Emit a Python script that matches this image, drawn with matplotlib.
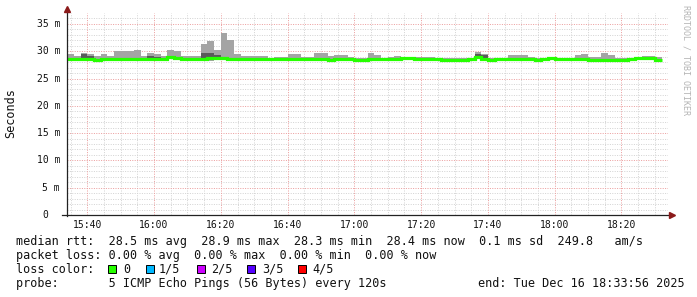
import numpy as np
import matplotlib
matplotlib.use("Agg")
import matplotlib.pyplot as plt
from matplotlib.patches import Rectangle

# ---------------- data (ms) ----------------
# 2-minute samples starting 15:34 (minutes after 15:00)
first_sample_min = 34
sample_step_min = 2

median_ms = [28.6, 28.6, 28.6, 28.6, 28.45, 28.6, 28.6, 28.6, 28.6, 28.6,
             28.6, 28.6, 28.65, 28.65, 28.65, 28.85, 28.7, 28.6, 28.6, 28.6,
             28.65, 28.75, 28.75, 28.7, 28.65, 28.6, 28.6, 28.6, 28.55, 28.55,
             28.5, 28.55, 28.55, 28.6, 28.6, 28.6, 28.6, 28.6, 28.6, 28.35,
             28.6, 28.6, 28.6, 28.4, 28.4, 28.6, 28.6, 28.6, 28.6, 28.6,
             28.7, 28.7, 28.65, 28.65, 28.65, 28.6, 28.4, 28.4, 28.4, 28.4,
             28.6, 28.85, 28.65, 28.35, 28.6, 28.6, 28.6, 28.6, 28.6, 28.6,
             28.4, 28.55, 28.7, 28.6, 28.6, 28.6, 28.6, 28.6, 28.45, 28.45,
             28.45, 28.45, 28.45, 28.45, 28.5, 28.7, 28.7, 28.7, 28.35]

ping_max_ms = [29.5, 29.2, 29.6, 29.5, 29.1, 29.5, 29.2, 30.0, 30.0, 30.0,
               30.2, 29.2, 29.7, 29.5, 29.2, 30.2, 30.0, 29.2, 29.2, 29.2,
               31.4, 31.9, 30.2, 33.3, 32.0, 29.5, 29.1, 29.1, 29.1, 29.1,
               28.8, 29.0, 29.0, 29.5, 29.5, 29.0, 29.0, 29.7, 29.7, 29.2,
               29.3, 29.3, 29.0, 28.8, 28.8, 29.7, 29.3, 28.8, 29.0, 29.1,
               28.8, 28.8, 29.0, 29.0, 29.0, 28.7, 28.7, 28.7, 28.7, 28.7,
               28.8, 29.9, 29.5, 28.7, 28.8, 28.8, 29.3, 29.3, 29.3, 29.0,
               28.7, 28.8, 29.0, 28.8, 28.8, 28.8, 29.3, 29.5, 29.0, 29.0,
               29.7, 29.3, 28.7, 28.7, 28.7, 29.0, 29.1, 29.1, 29.0]

ping_p4_ms = [28.7, 28.7, 29.5, 29.2, 28.55, 28.7, 28.7, 28.7, 28.7, 28.7,
              28.7, 28.7, 29.2, 29.0, 28.75, 28.95, 28.8, 28.7, 28.7, 28.7,
              29.7, 29.7, 29.25, 28.8, 28.75, 28.7, 28.7, 28.7, 28.65, 28.65,
              28.6, 28.65, 28.65, 28.7, 28.7, 28.7, 28.7, 28.7, 28.7, 28.45,
              28.7, 28.7, 28.7, 28.5, 28.5, 28.7, 28.7, 28.7, 28.7, 28.7,
              28.8, 28.8, 28.75, 28.75, 28.75, 28.7, 28.5, 28.5, 28.5, 28.5,
              28.7, 29.5, 29.3, 28.45, 28.7, 28.7, 28.7, 28.7, 28.7, 28.7,
              28.5, 28.65, 28.8, 28.7, 28.7, 28.7, 28.7, 28.7, 28.55, 28.55,
              28.55, 28.55, 28.55, 28.55, 28.6, 28.8, 28.8, 28.8, 28.45]

ping_p2_ms = [28.5, 28.5, 28.5, 28.5, 28.35, 28.5, 28.5, 28.5, 28.5, 28.5,
              28.5, 28.5, 28.55, 28.55, 28.55, 28.75, 28.6, 28.5, 28.5, 28.5,
              28.4, 28.3, 28.4, 28.6, 28.55, 28.5, 28.5, 28.5, 28.45, 28.45,
              28.4, 28.45, 28.45, 28.5, 28.5, 28.5, 28.5, 28.5, 28.5, 28.25,
              28.5, 28.5, 28.5, 28.3, 28.3, 28.5, 28.5, 28.5, 28.5, 28.5,
              28.6, 28.6, 28.55, 28.55, 28.55, 28.5, 28.3, 28.3, 28.3, 28.3,
              28.5, 28.75, 28.55, 28.25, 28.5, 28.5, 28.5, 28.5, 28.5, 28.5,
              28.3, 28.45, 28.6, 28.5, 28.5, 28.5, 28.5, 28.5, 28.35, 28.35,
              28.35, 28.35, 28.35, 28.35, 28.4, 28.6, 28.6, 28.6, 28.25]

ping_min_ms = [28.4, 28.4, 28.4, 28.4, 28.25, 28.4, 28.4, 28.4, 28.4, 28.4,
               28.4, 28.4, 28.45, 28.45, 28.45, 28.65, 28.5, 28.4, 28.4, 28.4,
               28.35, 28.25, 28.35, 28.5, 28.45, 28.4, 28.4, 28.4, 28.35, 28.35,
               28.3, 28.35, 28.35, 28.4, 28.4, 28.4, 28.4, 28.4, 28.4, 28.15,
               28.4, 28.4, 28.4, 28.2, 28.2, 28.4, 28.4, 28.4, 28.4, 28.4,
               28.5, 28.5, 28.45, 28.45, 28.45, 28.4, 28.2, 28.2, 28.2, 28.2,
               28.4, 28.65, 28.45, 28.15, 28.4, 28.4, 28.4, 28.4, 28.4, 28.4,
               28.2, 28.35, 28.5, 28.4, 28.4, 28.4, 28.4, 28.4, 28.25, 28.25,
               28.25, 28.25, 28.25, 28.25, 28.3, 28.5, 28.5, 28.5, 28.15]

x_tick_minutes = [40, 60, 80, 100, 120, 140, 160, 180, 200]
x_tick_labels = ["15:40", "16:00", "16:20", "16:40", "17:00", "17:20", "17:40", "18:00", "18:20"]
y_tick_values = [0, 5, 10, 15, 20, 25, 30, 35]
y_tick_labels = ["0", "5 m", "10 m", "15 m", "20 m", "25 m", "30 m", "35 m"]

loss_labels = ["0", "1/5", "2/5", "3/5", "4/5"]
loss_colors = ["#26ff00", "#00b8ff", "#cc00ff", "#5500ff", "#ff0000"]

legend_lines = [
    "median rtt:  28.5 ms avg  28.9 ms max  28.3 ms min  28.4 ms now  0.1 ms sd  249.8   am/s",
    "packet loss: 0.00 % avg  0.00 % max  0.00 % min  0.00 % now",
]
probe_text = "probe:       5 ICMP Echo Pings (56 Bytes) every 120s"
end_text = "end: Tue Dec 16 18:33:56 2025"

# ---------------- figure ----------------
W, H = 697, 297
fig = plt.figure(figsize=(W / 100, H / 100), dpi=100, facecolor="white")
X0, X1, YT, YB = 67, 668, 13, 215
ax = fig.add_axes([X0 / W, (H - YB) / H, (X1 - X0) / W, (YB - YT) / H])
ax.set_facecolor("white")
t_start = 33 + 56 / 60
t_end = t_start + 180
ax.set_xlim(t_start, t_end)
ax.set_ylim(0, 37)
for s in ax.spines.values():
    s.set_visible(False)
ax.set_xticks([])
ax.set_yticks([])

MONO = "DejaVu Sans Mono"
minor_c = "#d4d4d4"
major_c = "#eca0a0"
dot = (0, (1, 1.4))

# grid
for m in range(35, 214, 5):
    if m % 20 == 0:
        continue
    ax.axvline(m, color=minor_c, lw=0.72, ls=dot, zorder=1, snap=True)
for v in range(1, 37):
    if v % 5 == 0:
        continue
    ax.axhline(v, color=minor_c, lw=0.72, ls=dot, zorder=1, snap=True)
for v in range(5, 37, 5):
    ax.axhline(v, color=major_c, lw=0.72, ls=dot, zorder=1.5, snap=True)
for m in x_tick_minutes:
    ax.axvline(m, color=major_c, lw=0.72, ls=dot, zorder=1.5, snap=True)

# smoke
n = len(median_ms)
edges = first_sample_min + sample_step_min * np.arange(n + 1)
def ext(a):
    a = np.asarray(a, float)
    return np.append(a, a[-1])
ax.fill_between(edges, ext(ping_min_ms), ext(ping_max_ms), step="post",
                color="#a4a4a4", lw=0, zorder=2)
ax.fill_between(edges, ext(ping_p2_ms), ext(ping_p4_ms), step="post",
                color="#5a5a5a", lw=0, zorder=3)
ax.step(edges, ext(median_ms), where="post", color=loss_colors[0], lw=2.3,
        solid_capstyle="butt", solid_joinstyle="miter", zorder=4)

# axes lines + arrows
ax.plot([-5 / 601, 1.0 + 2 / 601], [0, 0], transform=ax.transAxes, color="#222222",
        lw=0.9, clip_on=False, zorder=5)
ax.plot([0, 0], [-1 / 202, 1.0 + 3 / 202], transform=ax.transAxes, color="#222222",
        lw=0.9, clip_on=False, zorder=5)
ax.plot([1.0 + 4 / 601], [0], marker=">", ms=4.5, color="#8b1a1a", mec="#8b1a1a",
        transform=ax.transAxes, clip_on=False, zorder=6)
ax.plot([0], [1.0 + 4 / 202], marker="^", ms=4.5, color="#8b1a1a", mec="#8b1a1a",
        transform=ax.transAxes, clip_on=False, zorder=6)

def fx(px):
    return px / W
def fy(py):
    return 1 - py / H

# tick labels
for m, lab in zip(x_tick_minutes, x_tick_labels):
    px = X0 + (m - t_start) / 180 * (X1 - X0)
    fig.text(fx(px), fy(228), lab, family=MONO, size=7, ha="center", va="baseline",
             color="#111111")
for v, lab in zip(y_tick_values, y_tick_labels):
    py = YB - v / 37 * (YB - YT)
    xr = 60 if " " in lab else 48
    fig.text(fx(xr), fy(py), lab, family=MONO, size=7, ha="right", va="center",
             color="#111111")

fig.text(fx(11), fy(113), "Seconds", family=MONO, size=8.5, rotation=90,
         ha="center", va="center", color="#111111")
fig.text(fx(686), fy(5), "RRDTOOL / TOBI OETIKER", family=MONO, size=6,
         rotation=270, ha="center", va="top", color="#b4b4b4")

# legend
base_y = [245, 259]
for ty, line in zip(base_y, legend_lines):
    fig.text(fx(16.5), fy(ty), line, family=MONO, size=8.5, ha="left",
             va="baseline", color="#111111")
fig.text(fx(16.5), fy(273), "loss color:", family=MONO, size=8.5, ha="left",
         va="baseline", color="#111111")
box_x = [108, 146, 197, 247, 298]
lab_x = [123, 159, 211, 262, 312]
for bx, lx, lab, c in zip(box_x, lab_x, loss_labels, loss_colors):
    fig.patches.append(Rectangle((fx(bx), fy(273)), 8 / W, 8 / H,
                                 transform=fig.transFigure, facecolor=c,
                                 edgecolor="black", lw=0.7))
    fig.text(fx(lx), fy(273), lab, family=MONO, size=8.5, ha="left",
             va="baseline", color="#111111")
fig.text(fx(16.5), fy(287), probe_text, family=MONO, size=8.5, ha="left",
         va="baseline", color="#111111")
fig.text(fx(478), fy(287), end_text, family=MONO, size=8.5, ha="left",
         va="baseline", color="#111111")

fig.savefig("out.png", dpi=100, facecolor="white")
